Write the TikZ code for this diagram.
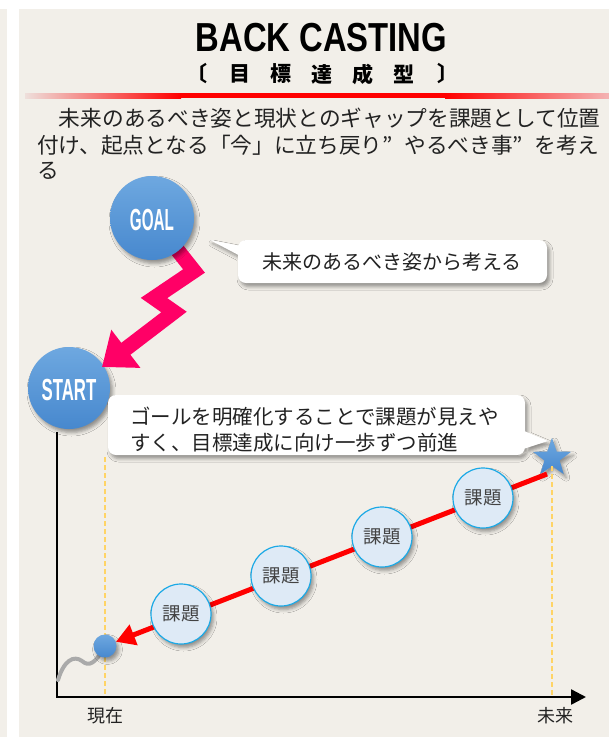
\documentclass[tikz,border=0pt]{standalone}
\usepackage{fontspec}
\usepackage{graphicx}
\usetikzlibrary{shapes.geometric,shadows.blur,arrows.meta}
\newfontfamily\jp{Noto Sans CJK JP}
\newfontfamily\lat{Liberation Sans}
\definecolor{bg}{HTML}{F2EFE9}
\definecolor{ctext}{HTML}{222222}
\definecolor{bluetop}{HTML}{6EA8E0}
\definecolor{bluebot}{HTML}{4788CE}
\definecolor{pinkarrow}{HTML}{FF0066}
\definecolor{issuefill}{HTML}{DEEAF6}
\definecolor{issueline}{HTML}{1BA9E6}
\definecolor{dashy}{HTML}{FFD466}
\definecolor{wave}{HTML}{AAAAAA}
\definecolor{barpaleL}{HTML}{EEDFDB}
\definecolor{barpaleR}{HTML}{F4B3B3}
\definecolor{pured}{HTML}{FF0000}
\tikzset{
  softshadow/.style={blur shadow={shadow xshift=2.5pt, shadow yshift=-3.5pt, shadow blur radius=3.5pt, shadow opacity=40}},
  bluecircle/.style={circle, inner sep=0pt, top color=bluetop, bottom color=bluebot, draw=none, softshadow, text=white},
  bigword/.style={font=\lat\bfseries\fontsize{30.5}{31}\selectfont},
  issue/.style={circle, minimum size=60pt, inner sep=0pt, fill=issuefill, draw=issueline, line width=1.2pt, softshadow, text=ctext!85!white, font=\jp\fontsize{18.5}{20}\selectfont},
  subch/.style={font=\jp\bfseries\fontsize{21}{22}\selectfont, inner sep=0pt, text=black},
  bodytext/.style={font=\jp\fontsize{21.7}{26}\selectfont, inner sep=0pt, text=ctext, anchor=west},
  callout/.style={fill=white, softshadow},
  yguide/.style={dashy, line width=1.4pt, dash pattern=on 5pt off 3pt},
  axislbl/.style={font=\jp\fontsize{18}{20}\selectfont, text=ctext, inner sep=0pt}
}
\begin{document}
\begin{tikzpicture}[x=1pt,y=-1pt]
\useasboundingbox (0,0) rectangle (609,737);
% background
\fill[white] (0,0) rectangle (609,737);
\fill[bg] (0,9) rectangle (7,737);
\fill[bg] (19,9) rectangle (609,737);

% title
\node[font=\lat\bfseries\fontsize{40.5}{41}\selectfont, inner sep=0pt, text=black] (title) at (321.5,37.5) {\scalebox{0.81}[1]{BACK CASTING}};
\node[subch] (s0) at (197,74) {〔};
\node[subch] (s1) at (240,74) {目};
\node[subch] (s2) at (281,74) {標};
\node[subch] (s3) at (322,74) {達};
\node[subch] (s4) at (363,74) {成};
\node[subch] (s5) at (404,74) {型};
\node[subch] (s6) at (448,74) {〕};

% red bar
\shade[left color=barpaleL, right color=pured] (25,93) rectangle (181,98);
\fill[pured] (180,93) rectangle (446,98);
\shade[left color=pured, right color=barpaleR] (445,93) rectangle (609,98);

% body text
\node[bodytext] (l1) at (37,118) {　未来のあるべき姿と現状とのギャップを課題として位置};
\node[bodytext] (l2) at (37,145) {付け、起点となる「今」に立ち戻り\makebox[1em][l]{”}やるべき事\makebox[1em][l]{”}を考え};
\node[bodytext] (l3) at (37,171) {る};

% START circle
\node[bluecircle, minimum size=82pt] (start) at (69,388) {};
\node[bigword, text=white, inner sep=0pt] (starttxt) at (69,390) {\scalebox{0.55}[1]{START}};

% zigzag arrow
\coordinate (z0) at (175,247);
\coordinate (z1) at (194,271);
\coordinate (z2) at (154,298);
\coordinate (z3) at (174,312);
\coordinate (ztip) at (102,367);
\draw[pinkarrow, line width=15pt, line join=miter, -{Triangle[length=30pt,width=46pt]}] (z0) -- (z1) -- (z2) -- (z3) -- (ztip);

% GOAL circle
\node[bluecircle, minimum size=84pt] (goal) at (152,218) {};
\node[bigword, text=white, inner sep=0pt] (goaltxt) at (152,220) {\scalebox{0.5}[1]{GOAL}};

% callout 1
\path[callout, rounded corners=8pt] (238,240) rectangle (547,283) [sharp corners] (246,247) -- (210,240) -- (246,259) -- cycle;
\node[font=\jp\fontsize{20}{22}\selectfont, text=ctext, inner sep=0pt] (c1) at (392,262) {未来のあるべき姿から考える};

% callout 2
\path[callout, rounded corners=8pt] (108,395) rectangle (525,455) [sharp corners] (517,451) -- (548,441) -- (517,428) -- cycle;
\node[font=\jp\fontsize{20.5}{26}\selectfont, text=ctext, inner sep=0pt, align=left, anchor=west] (c2) at (130,430) {ゴールを明確化することで課題が見えや\\すく、目標達成に向け一歩ずつ前進};

% star
\node[star, star points=5, star point ratio=2.5, minimum size=40pt, inner sep=0pt, top color=bluetop, bottom color=bluebot, softshadow] (star) at (552,458) {};

% guides
\coordinate (g1top) at (105,457);
\coordinate (g1bot) at (105,696);
\coordinate (g2bot) at (552,696);
\draw[yguide] (g1top) -- (g1bot);
\draw[yguide] (star.south) -- (g2bot);

% axes
\coordinate (ytop) at (57,432);
\coordinate (origin) at (57,697);
\coordinate (xend) at (586,697);
\draw[black, line width=2.5pt, line join=miter, -{Triangle[length=15pt,width=15pt]}] (ytop) -- (origin) -- (xend);
\node[axislbl] (now) at (105,716) {現在};
\node[axislbl] (future) at (555,716) {未来};

% wave and dot
\node[circle, minimum size=23pt, inner sep=0pt] (dotpos) at (105,646) {};
\coordinate (w0) at (58,680);
\draw[wave, line width=4pt, line cap=round] (w0) .. controls (64,660) and (74,655) .. (82,661) .. controls (89,667) and (95,664) .. (dotpos.center);
\node[bluecircle, minimum size=23pt] (dot) at (105,646) {};

% red path
\coordinate (rstart) at (547,474);
\draw[pured, line width=5pt, -{Triangle[length=19pt,width=21pt]}] (rstart) -- (dot);

% issues
\node[issue] (i1) at (181,614) {課題};
\node[issue] (i2) at (281,576) {課題};
\node[issue] (i3) at (382,537) {課題};
\node[issue] (i4) at (483,498) {課題};
\end{tikzpicture}
\end{document}
